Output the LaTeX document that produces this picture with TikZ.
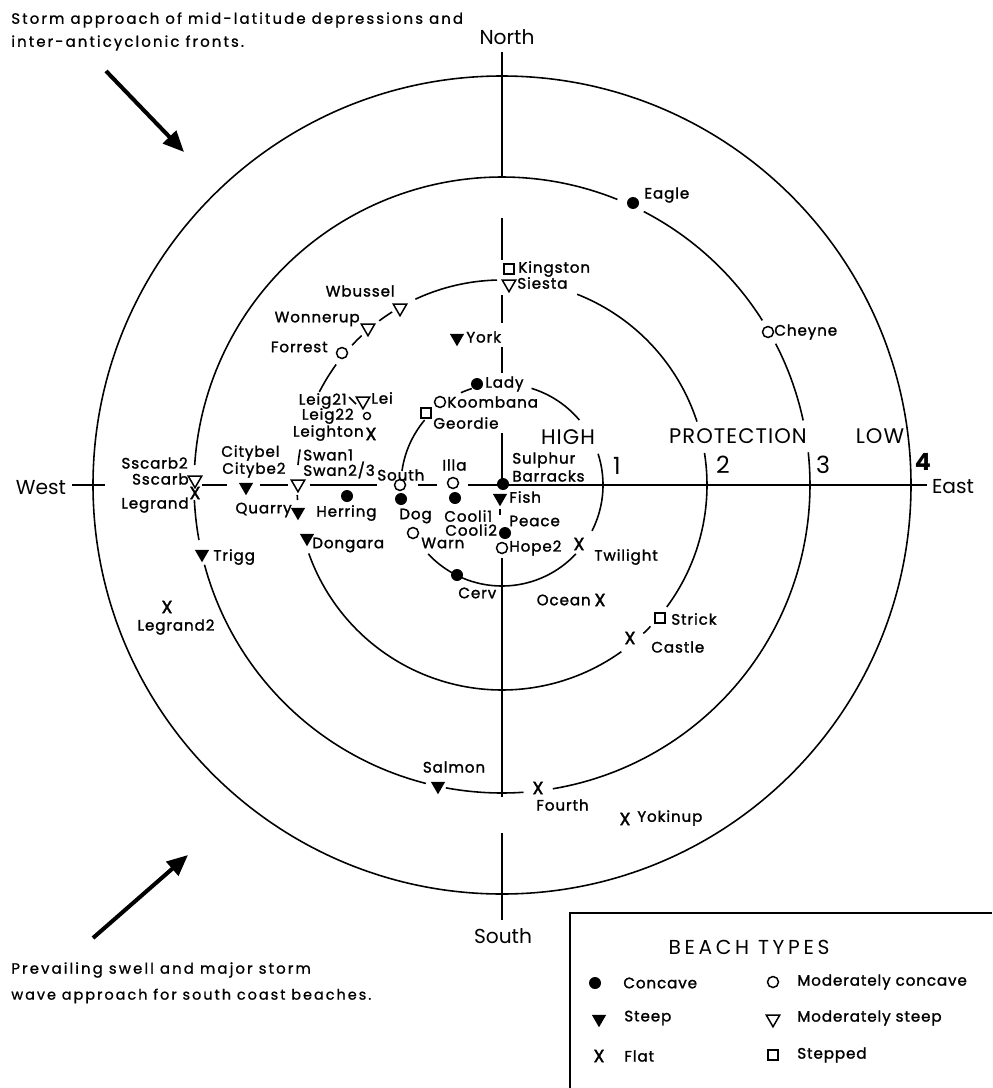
\documentclass[tikz,border=0pt]{standalone}
\usepackage{fontspec}
\setmainfont{Poppins}
\newfontfamily\lblfont[LetterSpace=6,FakeBold=1.5]{Poppins}
\newfontfamily\xfont[FakeBold=2]{Poppins}
\newfontfamily\capfont[LetterSpace=14,FakeBold=1]{Poppins}
\newfontfamily\legfont[LetterSpace=18]{Poppins}
\newfontfamily\zonefont[LetterSpace=5]{Poppins}
\usetikzlibrary{arrows.meta,shapes.geometric}
\newcommand\ringarc[3]{\draw[ring] plot[domain=#2:#3,samples=60,smooth] ({502+#1*cos(\x)},{485+#1*sin(\x)});}
\begin{document}
\begin{tikzpicture}[x=0.02cm,y=-0.02cm,
  ring/.style={line width=0.9pt},
  axisline/.style={line width=0.9pt},
  lbl/.style={font=\lblfont\fontsize{8.6}{10}\selectfont, inner sep=0pt},
  captxt/.style={font=\capfont\fontsize{8.5}{10}\selectfont, inner sep=0pt, anchor=west},
  dir/.style={font=\fontsize{11.5}{12}\selectfont, inner sep=0pt},
  zone/.style={font=\zonefont\fontsize{12}{12}\selectfont, inner sep=0pt},
  conc/.style={circle, fill=black, minimum size=0.24cm, inner sep=0pt},
  mconc/.style={circle, draw, line width=0.85pt, minimum size=0.22cm, inner sep=0pt, fill=white},
  steep/.style={regular polygon, regular polygon sides=3, shape border rotate=180, fill=black, minimum size=0.33cm, inner sep=0pt},
  msteep/.style={regular polygon, regular polygon sides=3, shape border rotate=180, draw, line width=0.85pt, fill=white, minimum size=0.31cm, inner sep=0pt},
  stepped/.style={rectangle, draw, line width=0.85pt, minimum size=0.2cm, inner sep=0pt, fill=white},
  flat/.style={inner sep=0pt, font=\xfont\fontsize{10}{10}\selectfont},
  bigarrow/.style={line width=2.3pt, -{Triangle[length=0.42cm,width=0.36cm]}},
]
\useasboundingbox (0,0) rectangle (992,1088);
\fill[white] (0,0) rectangle (992,1088);

% ---- rings
\draw[ring] (502,485) circle[radius=409];
\ringarc{101}{287}{320}
\ringarc{101}{342}{387}
\ringarc{101}{43}{137}
\ringarc{101}{188}{220}
\ringarc{101}{246}{252.6}
\ringarc{205}{245}{268.6}
\ringarc{205}{291.5}{342}
\ringarc{205}{351}{396.5}
\ringarc{205}{54.4}{160.5}
\ringarc{205}{43.6}{46.4}
\ringarc{205}{175.8}{177.2}
\ringarc{205}{185.6}{190}
\ringarc{205}{207}{216}
\ringarc{205}{223}{226.8}
\ringarc{205}{233.2}{237.6}
\ringarc{308}{297.4}{327.7}
\ringarc{308}{332.7}{347.9}
\ringarc{308}{353.9}{440.5}
\ringarc{308}{86}{100.5}
\ringarc{308}{104.3}{165}
\ringarc{308}{169.7}{177.2}
\ringarc{308}{183.7}{292}

% ---- axes
\draw[axisline] (502,52)--(502,176) (502,218)--(502,260) (502,295)--(502,323)
  (502,347)--(502,373) (502,433)--(502,485) (500,509)--(500,515)
  (502,558)--(502,797) (502,833)--(502,920);
\draw[axisline] (72,485)--(105,485) (202,485)--(227,485) (260,485)--(288,485)
  (310,485)--(377,485) (418,485)--(437,485) (468,485)--(927,485);

% ---- compass and zone labels
\node[dir] (north) at (507,37) {North};
\node[dir] (west) at (41,488) {West};
\node[dir] (east) at (953,487) {East};
\node[dir] (south) at (503,936) {South};
\node[zone] (high) at (568,437) {HIGH};
\node[zone] (prot) at (738,436) {PROTECTION};
\node[zone] (low) at (880,436) {LOW};
\node[zone,font=\fontsize{13.5}{13}\selectfont] (z1) at (617,466) {1};
\node[zone,font=\fontsize{13.5}{13}\selectfont] (z2) at (723,465) {2};
\node[zone,font=\fontsize{13.5}{13}\selectfont] (z3) at (823,465) {3};
\node[zone,font=\bfseries\fontsize{13.5}{13}\selectfont] (z4) at (923,462) {4};

% ---- beaches
\node[stepped] (kingS) at (509,269) {};
\node[lbl,anchor=west] (kingL) at (518,269) {Kingston};
\node[msteep] (siesS) at (509,284) {};
\node[lbl,anchor=west] (siesL) at (517,283) {Siesta};
\node[msteep] (wbuS) at (400,308) {};
\node[lbl,anchor=east] (wbuL) at (395,291) {Wbussel};
\node[msteep] (wonS) at (368,328) {};
\node[lbl,anchor=east] (wonL) at (360,319) {Wonnerup};
\node[mconc] (forS) at (342,353) {};
\node[lbl,anchor=east] (forL) at (328,347) {Forrest};
\node[steep] (yorS) at (457,338) {};
\node[lbl,anchor=west] (yorL) at (466,337) {York};
\node[conc] (ladS) at (477,384) {};
\node[lbl,anchor=west] (ladL) at (485,384) {Lady};
\node[mconc] (kooS) at (440,402) {};
\node[lbl,anchor=west] (kooL) at (447,402) {Koombana};
\node[stepped] (geoS) at (426,413) {};
\node[lbl,anchor=west] (geoL) at (433,423) {Geordie};
\node[lbl,anchor=east] (lg21L) at (347,401) {Leig21};
\node[msteep] (leiS) at (363,401) {};
\draw[axisline] (lg21L.east) ++(2,-4) -- ++(7,7);
\node[lbl,anchor=west] (leiL) at (371,398) {Lei};
\node[lbl,anchor=east] (lg22L) at (354,416) {Leig22};
\node[circle,draw,line width=0.8pt,minimum size=0.14cm,inner sep=0pt] (lg22S) at (367,416) {};
\node[lbl,anchor=east] (leiLL) at (364,433) {Leighton};
\node[flat] (leiX) at (371,434) {X};
\node[conc] (eagS) at (633,203) {};
\node[lbl,anchor=west] (eagL) at (644,195) {Eagle};
\node[mconc] (cheS) at (768,332) {};
\node[lbl,anchor=west] (cheL) at (774,332) {Cheyne};
\node[lbl,anchor=east] (ssc2L) at (188,463) {Sscarb2};
\node[msteep] (sscS) at (195,480) {};
\node[lbl,anchor=east] (sscL) at (189,479) {Sscarb};
\node[flat] (legX) at (195,493) {X};
\node[lbl,anchor=east] (legL) at (189,505) {Legrand};
\node[lbl,anchor=west] (cit1L) at (221,453) {Citybel};
\node[lbl,anchor=west] (cit2L) at (222,470) {Citybe2};
\node[steep] (citS) at (246,487) {};
\node[lbl,anchor=west] (sw1L) at (303,455) {Swan1};
\node[lbl,anchor=west] (sw2L) at (303,470) {Swan2/3};
\node[msteep] (swS) at (298,484) {};
\node[steep] (quaS) at (298,512) {};
\node[lbl,anchor=east] (quaL) at (292,510) {Quarry};
\node[conc] (herS) at (347,496) {};
\node[lbl,anchor=west] (herL) at (316,513) {Herring};
\node[mconc] (souS) at (400,485) {};
\node[lbl,anchor=west] (souL) at (377,475) {South};
\node[conc] (dogS) at (401,499) {};
\node[lbl,anchor=west] (dogL) at (399,516) {Dog};
\node[mconc] (illS) at (453,483) {};
\node[lbl,anchor=west] (illL) at (442,465) {Illa};
\node[conc] (cooS) at (455,498) {};
\node[lbl,anchor=west] (coo1L) at (444,516) {Cooli1};
\node[lbl,anchor=west] (coo2L) at (445,530) {Cooli2};
\node[steep] (donS) at (307,538) {};
\node[lbl,anchor=west] (donL) at (312,545) {Dongara};
\node[steep] (triS) at (202,554) {};
\node[lbl,anchor=west] (triL) at (213,557) {Trigg};
\node[flat] (leg2X) at (167,607) {X};
\node[lbl] (leg2L) at (176,627) {Legrand2};
\node[mconc] (warS) at (413,533) {};
\node[lbl,anchor=west] (warL) at (421,543) {Warn};
\node[conc] (cerS) at (457,575) {};
\node[lbl,anchor=west] (cerL) at (458,593) {Cerv};
\node[conc] (sulS) at (503,484) {};
\node[lbl,anchor=west] (sul1L) at (512,460) {Sulphur};
\node[lbl,anchor=west] (sul2L) at (512,476) {Barracks};
\node[steep] (fisS) at (500,498) {};
\node[lbl,anchor=west] (fisL) at (509,497) {Fish};
\node[conc] (peaS) at (505,533) {};
\node[lbl,anchor=west] (peaL) at (509,521) {Peace};
\node[mconc] (hopS) at (502,548) {};
\node[lbl,anchor=west] (hopL) at (509,548) {Hope2};
\node[flat] (twiX) at (579,544) {X};
\node[lbl,anchor=west] (twiL) at (594,557) {Twilight};
\node[flat] (ocnX) at (600,600) {X};
\node[lbl,anchor=east] (ocnL) at (591,600) {Ocean};
\node[stepped] (strS) at (660,618) {};
\node[lbl,anchor=west] (strL) at (671,619) {Strick};
\node[flat] (casX) at (630,638) {X};
\node[lbl,anchor=west] (casL) at (651,647) {Castle};
\node[steep] (salS) at (438,786) {};
\node[lbl] (salL) at (454,767) {Salmon};
\node[flat] (fouX) at (538,788) {X};
\node[lbl,anchor=west] (fouL) at (536,805) {Fourth};
\node[flat] (yokX) at (625,819) {X};
\node[lbl,anchor=west] (yokL) at (637,818) {Yokinup};

% ---- captions and arrows
\node[captxt] (cap1) at (11,20) {Storm approach of mid-latitude depressions and};
\node[captxt] (cap2) at (11,43) {inter-anticyclonic fronts.};
\coordinate (a1s) at (106,71);
\coordinate (a1e) at (184,152);
\draw[bigarrow] (a1s) -- (a1e);
\coordinate (a2s) at (93,938);
\coordinate (a2e) at (188,855);
\draw[bigarrow] (a2s) -- (a2e);
\node[captxt] (cap3) at (11,970) {Prevailing swell and major storm};
\node[captxt,font=\capfont\fontsize{8.2}{10}\selectfont] (cap4) at (11,996) {wave approach for south coast beaches.};

% ---- legend
\draw[line width=0.9pt] (570,1088) -- (570,913) -- (992,913);
\node[inner sep=0pt,font=\legfont\fontsize{11.5}{12}\selectfont] (legT) at (749,947) {BEACH TYPES};
\node[conc] (lg1) at (595,983) {};
\node[lbl,anchor=west] (lg1L) at (623,983) {Concave};
\node[mconc] (lg2) at (773,982) {};
\node[lbl,anchor=west] (lg2L) at (797,982) {Moderately concave};
\node[steep] (lg3) at (599,1019) {};
\node[lbl,anchor=west] (lg3L) at (624,1018) {Steep};
\node[msteep] (lg4) at (773,1019) {};
\node[lbl,anchor=west] (lg4L) at (797,1018) {Moderately steep};
\node[flat] (lg5) at (599,1056) {X};
\node[lbl,anchor=west] (lg5L) at (624,1056) {Flat};
\node[stepped] (lg6) at (773,1055) {};
\node[lbl,anchor=west] (lg6L) at (797,1055) {Stepped};
\end{tikzpicture}
\end{document}
